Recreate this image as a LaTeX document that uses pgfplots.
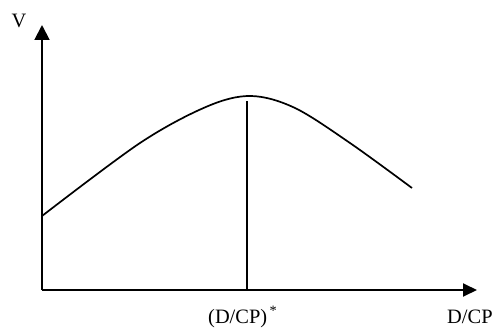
\documentclass[border=0pt]{standalone}
\usepackage{fontspec}
\setmainfont{Liberation Serif}
\usepackage{pgfplots}
\pgfplotsset{compat=1.18}
\usetikzlibrary{arrows.meta}
\begin{document}
\begin{tikzpicture}
\begin{axis}[
  scale only axis,
  width=435bp, height=265bp,
  xmin=42, xmax=477, ymin=37, ymax=302,
  axis lines=left,
  x axis line style={line width=1.9bp,-{Triangle[length=14bp,width=13bp]}},
  y axis line style={line width=1.9bp,-{Triangle[length=15bp,width=15bp]}},
  xtick=\empty, ytick=\empty,
  clip=false,
]
\path (axis cs:0,0) rectangle (axis cs:493,327);
\addplot[black, line width=1.7bp, smooth, tension=0.55] coordinates {
(42,111) (140,184) (207,220.5) (251,231) (295,219) (350,184) (412,139)
};
\addplot[black, line width=1.9bp] coordinates {(247,225.5) (247,37)};
\node[anchor=base, inner sep=0pt, font=\fontsize{20.5}{23}\selectfont] at (axis cs:19,327-28) {V};
\node[anchor=base west, inner sep=0pt, font=\fontsize{20.5}{23}\selectfont] at (axis cs:208,327-323) {(D/CP)\textsuperscript{\,*}};
\node[anchor=base west, inner sep=0pt, font=\fontsize{20.5}{23}\selectfont] at (axis cs:447,327-323) {D/CP};
\end{axis}
\end{tikzpicture}
\end{document}
